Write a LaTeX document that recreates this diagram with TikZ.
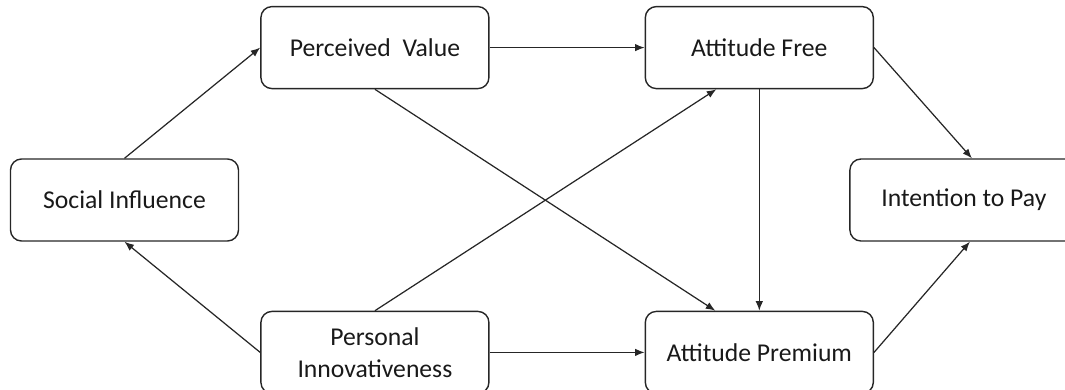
\documentclass[tikz,border=0pt]{standalone}
\usepackage{fontspec}
\setmainfont{Carlito}
\usepackage{tikz}
\usetikzlibrary{arrows.meta,positioning}

\begin{document}
\begin{tikzpicture}[
  construct/.style={rectangle, rounded corners=0.22cm, draw=black!85,
    line width=0.8pt, minimum width=4.56cm, minimum height=1.64cm,
    align=center, text=black!90, font=\fontsize{14.6}{18}\selectfont},
  arrow/.style={-{Latex[length=1.9mm, width=1.5mm]}, line width=0.7pt, black!85}
]
  \useasboundingbox (0,0) rectangle (21.3,7.78);

  \node[construct] (SI) at (2.49,3.78) {Social Influence};
  \node[construct, above right=1.38cm and 0.42cm of SI] (PV) {Perceived\ \ Value};
  \node[construct, below right=1.38cm and 0.42cm of SI] (PI) {Personal\\Innovativeness};
  \node[construct, right=3.1cm of PV] (AF) {Attitude Free};
  \node[construct, right=3.1cm of PI] (AP) {Attitude Premium};
  \node[construct, right=12.2cm of SI] (IP) {Intention to Pay};

  \draw[arrow] (SI.north) -- (PV.west);
  \draw[arrow] (PI.west) -- (SI.south);
  \draw[arrow] (PV) -- (AF);
  \draw[arrow] (PI) -- (AP);
  \draw[arrow] (PV.south) -- ([xshift=-0.88cm]AP.north);
  \draw[arrow] (PI.north) -- ([xshift=-0.86cm]AF.south);
  \draw[arrow] (AF.south) -- (AP.north);

  % paths into the outcome
  \draw[arrow] (AF.east) -- ([xshift=0.16cm]IP.north);
  \draw[arrow] (AP.east) -- ([xshift=0.12cm]IP.south);
\end{tikzpicture}
\end{document}
